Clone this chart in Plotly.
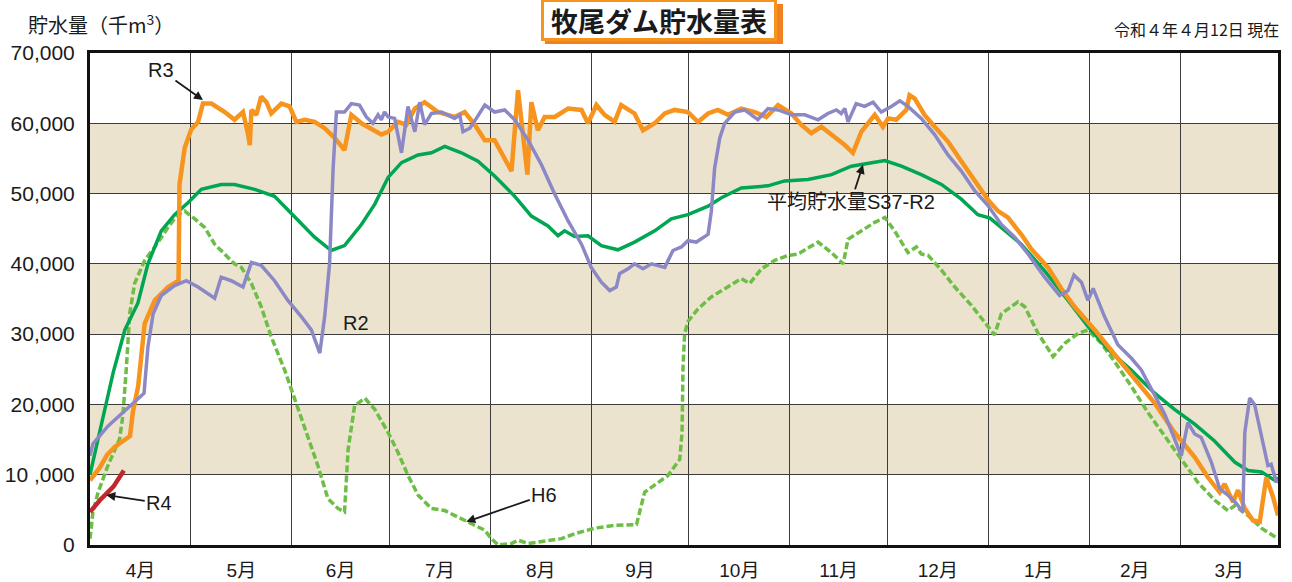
import plotly.graph_objects as go

# ---------------- data (storage in 千m3, x = day index from 1 April) ----------------
MONTH_LABELS = ["4月", "5月", "6月", "7月", "8月", "9月", "10月", "11月", "12月", "1月", "2月", "3月"]
MONTH_BOUNDS = [0, 31, 62, 92, 123, 154, 184, 215, 245, 276, 307, 335, 365]

Y_TICKS = [0, 10000, 20000, 30000, 40000, 50000, 60000, 70000]
Y_TICKTEXT = ["0", "10 ,000", "20,000", "30,000", "40,000", "50,000", "60,000", "70,000"]
BANDS = [(10000, 20000), (30000, 40000), (50000, 60000)]

AVG_DAYS = [0, 3.5, 7.1, 10.7, 14.7, 17.8, 21.9, 26, 30.1, 34.2,
            40.3, 44.4, 50.6, 56.7, 62.9, 69, 74.1, 78.2, 83.4, 87.5,
            91.6, 95.7, 100.8, 104.9, 109, 114.1, 119.2, 124.3, 130.5, 135.6,
            140.7, 143.8, 145.8, 148.9, 153, 157.1, 162.2, 167.3, 173.5, 178.6,
            183.7, 189.9, 194, 200.1, 208.3, 213.4, 220.6, 227.8, 233.9, 238,
            244.2, 249.3, 255.4, 261.6, 267.7, 272.8, 276.5, 286.1, 293.3, 300.5,
            306.6, 312.8, 319.9, 327.1, 333.2, 339.4, 345.5, 351.7, 355.8, 359.9,
            364, 365]
AVG_VALS = [10000, 17000, 24500, 30600, 34400, 40000, 44700, 47000, 48700, 50600,
            51300, 51300, 50600, 49600, 46600, 43800, 41900, 42600, 45600, 48500,
            52300, 54400, 55500, 55800, 56700, 55800, 54600, 52500, 49600, 46800,
            45400, 44000, 44700, 43900, 44000, 42600, 42000, 43100, 44700, 46400,
            47000, 48200, 49400, 50800, 51100, 51800, 52000, 52700, 53900, 54200,
            54700, 53900, 52700, 51300, 49200, 47000, 46500, 42800, 39000, 34800,
            31100, 27800, 24900, 21600, 19300, 17200, 14800, 11800, 10600, 10400,
            9200, 9600]

R3_DAYS = [0, 3, 5.2, 7.7, 12.3, 13.2, 14.8, 16.8, 19.9, 24,
           27.2, 27.5, 29.1, 31.1, 33.2, 34.7, 37.3, 41.4, 44.4, 47,
           48.5, 49.1, 49.6, 51.1, 52.6, 54.2, 55.7, 58.8, 61.3, 63.4,
           66, 69, 72.1, 75.2, 78.2, 80.3, 83.4, 86.4, 89.5, 91.6,
           94.6, 97.2, 99.8, 102.8, 106.9, 112, 115.1, 118.2, 121.3, 124.3,
           127.4, 129.5, 131.5, 133.6, 134.4, 135.6, 137.6, 139.7, 142.8, 146.9,
           151, 153, 155.6, 158.1, 161.2, 163.2, 167.3, 169.9, 173.5, 176.6,
           179.6, 183.7, 186.8, 189.9, 192.9, 196, 200.1, 204.2, 207.8, 211.4,
           215.5, 218.5, 221.6, 224.7, 228.8, 231.9, 234.4, 237, 241.1, 243.6,
           245.2, 247.7, 250.8, 251.8, 253.4, 256.4, 259.5, 263.6, 267.7, 271.8,
           275.9, 279, 282, 286.1, 289.2, 294.3, 298.4, 302.5, 308.7, 314.8,
           321, 327.1, 333.2, 339.4, 343.5, 347.1, 348.6, 351.2, 352.7, 354.8,
           357.3, 359.4, 361.4, 363.5, 365]
R3_VALS = [9200, 11000, 12800, 14000, 15500, 19000, 22600, 31500, 34800, 36700,
           37600, 51300, 56500, 59100, 60200, 62800, 62800, 61600, 60500, 61600,
           58600, 56900, 61900, 61200, 63800, 63000, 61400, 62800, 62400, 60200,
           60500, 60200, 59300, 57900, 56200, 61200, 60000, 59300, 58400, 58800,
           60200, 59800, 62100, 63000, 61600, 60900, 61600, 59800, 57600, 57600,
           55100, 53200, 64700, 56000, 52700, 63000, 59000, 60900, 60900, 62100,
           61900, 60000, 62600, 61200, 60200, 62600, 61400, 59000, 60000, 61400,
           61900, 61600, 60200, 61400, 61900, 61200, 62100, 61600, 60900, 62600,
           61400, 59800, 58600, 59500, 58100, 56900, 55800, 58800, 61200, 59500,
           60700, 60500, 61900, 64000, 63500, 61200, 59500, 57400, 54600, 51800,
           49100, 47500, 46600, 44200, 42100, 39500, 36500, 33900, 30600, 27100,
           23500, 20200, 16000, 12500, 9600, 7500, 8700, 6100, 7800, 5200,
           3500, 3300, 9600, 6800, 4200]

R2_DAYS = [0, 0.9, 5.5, 11.7, 16.6, 17.8, 19.4, 21.9, 26, 29.6,
           33.2, 38.3, 40.3, 43.4, 47, 49.6, 52.6, 56.7, 60.8, 64.9,
           68, 70.6, 72.1, 73.6, 74.7, 75.7, 78.2, 80.3, 82.8, 84.9,
           86.9, 88.5, 89.5, 90.5, 91.6, 93.6, 95.7, 97.7, 99.8, 101.3,
           102.8, 104.9, 108, 112, 113.6, 114.6, 116.7, 118.7, 121.3, 124.3,
           127.4, 130.5, 134.6, 138.7, 142.8, 146.9, 151, 154, 157.1, 159.7,
           161.7, 162.7, 165.3, 167.3, 169.9, 172.5, 176.6, 179.1, 181.7, 183.7,
           186.3, 189.9, 190.9, 191.9, 193.5, 195, 198.1, 201.1, 205.2, 208.3,
           211.4, 215.5, 219.6, 223.7, 226.7, 229.3, 230.8, 231.9, 232.9, 235.4,
           238, 240.6, 243.1, 246.2, 248.8, 251.3, 255.4, 259.5, 263.6, 267.7,
           271.8, 275.9, 280, 284.1, 288.2, 293.3, 297.9, 300.5, 302.3, 304.6,
           306.6, 308.2, 311.7, 315.8, 319.9, 323, 326.1, 330.2, 333.2, 335.3,
           337.3, 339.4, 341.4, 344.5, 347.1, 349.6, 352.2, 354.2, 354.8, 356.3,
           357.8, 359.9, 361.9, 362.9, 364.5, 365]
R2_VALS = [12700, 14400, 16900, 19500, 21600, 28200, 32900, 35500, 36900, 37600,
           36700, 35100, 38100, 37600, 36700, 40200, 39800, 37600, 34800, 32500,
           30600, 27300, 32500, 40000, 53600, 61600, 61600, 62800, 62600, 60900,
           60000, 61200, 60500, 61600, 60900, 60700, 55800, 62400, 58800, 63000,
           59800, 61400, 61600, 60700, 61200, 58800, 59300, 60700, 62600, 61600,
           61900, 60500, 57600, 54100, 49900, 46100, 42800, 39500, 37400, 36200,
           36700, 38600, 39300, 40000, 39300, 40000, 39500, 41900, 42400, 43300,
           43100, 44200, 47500, 53600, 57900, 60000, 61600, 61900, 60500, 62100,
           61900, 61200, 61200, 60500, 61400, 61900, 61400, 62100, 60200, 62800,
           62400, 63000, 61600, 62400, 63200, 62400, 60700, 58400, 55500, 53200,
           50400, 48300, 45600, 43800, 41400, 38100, 35500, 36200, 38400, 37400,
           34800, 36500, 32500, 28500, 26600, 24900, 22100, 18600, 15100, 12700,
           17400, 15800, 15300, 11800, 8000, 7100, 5900, 4700, 16000, 20900,
           20000, 15500, 11300, 11500, 8900, 9400]

H6_DAYS = [0, 0.9, 2.5, 5.5, 9.1, 10.1, 11.2, 12.2, 13.7, 16.8,
           19.9, 24, 27, 29.1, 32.2, 35.2, 38.3, 41.4, 44.4, 46.5,
           49.6, 52.6, 55.7, 59.8, 62.9, 67, 70, 73.1, 76.2, 78.2,
           79.3, 81.3, 84.4, 87.5, 91.6, 94.6, 97.7, 100.8, 104.9, 109,
           112, 116.1, 121.3, 123.3, 125.4, 129.5, 131.5, 134.6, 139.7, 144.8,
           148.9, 155.1, 161.2, 167.9, 170.4, 173.5, 177.6, 181.2, 181.9, 182.2,
           182.7, 183.7, 186.8, 190.9, 195, 200.1, 202.7, 206.3, 210.4, 214.5,
           217.5, 223.7, 227.8, 231.4, 232.9, 237, 241.1, 244.2, 247.2, 251.3,
           253.9, 255.4, 257.5, 261.6, 265.7, 270.8, 275.9, 277.9, 280, 285.1,
           287.2, 291.3, 295.9, 299.5, 303.6, 306.6, 310.7, 314.8, 319.9, 325.1,
           330.2, 335.3, 340.4, 345.5, 349.6, 351.7, 355.8, 359.9, 365]
H6_VALS = [900, 4700, 7500, 11300, 15100, 18400, 25400, 32900, 37200, 40500,
           42400, 45200, 47000, 47500, 46400, 45200, 42800, 41400, 40000, 39500,
           37200, 33900, 29600, 24900, 20700, 15500, 11300, 6600, 5200, 4700,
           13600, 19800, 20900, 19300, 16000, 13200, 9900, 7100, 5200, 4900,
           4200, 3300, 2100, 900, 0, 200, 700, 200, 500, 900,
           1600, 2400, 2800, 2900, 7500, 8500, 9900, 12200, 16000, 25400,
           30100, 31800, 33600, 35300, 36500, 37900, 37200, 39300, 40500, 41200,
           41400, 43100, 41600, 40000, 43500, 44700, 45900, 46600, 44700, 41600,
           42400, 41400, 41200, 39100, 36700, 34100, 31000, 29900, 32900, 34600,
           33900, 30100, 26800, 28700, 30100, 30600, 28700, 26100, 22600, 18800,
           15500, 12200, 8900, 6400, 4900, 5600, 4200, 2400, 900]

R4_DAYS = [0, 3.1, 7.2, 10.4]
R4_VALS = [4700, 6400, 8300, 10600]

# ---------------- styling ----------------
C_AVG = "#00A651"
C_R3 = "#F7941D"
C_R2 = "#8C88C6"
C_H6 = "#6DBE45"
C_R4 = "#C1272D"
FONT_LAT = "Liberation Sans, Arial, Noto Sans CJK JP, sans-serif"
FONT_CJK = "Noto Sans CJK JP, Liberation Sans, sans-serif"

fig = go.Figure()
fig.add_trace(go.Scatter(x=H6_DAYS, y=H6_VALS, mode="lines", name="H6",
                         line=dict(color=C_H6, width=3.5, dash="7px,3px")))
fig.add_trace(go.Scatter(x=AVG_DAYS, y=AVG_VALS, mode="lines", name="平均貯水量S37-R2",
                         line=dict(color=C_AVG, width=3.5)))
fig.add_trace(go.Scatter(x=R3_DAYS, y=R3_VALS, mode="lines", name="R3",
                         line=dict(color=C_R3, width=4.5)))
fig.add_trace(go.Scatter(x=R2_DAYS, y=R2_VALS, mode="lines", name="R2",
                         line=dict(color=C_R2, width=3.5)))
fig.add_trace(go.Scatter(x=R4_DAYS, y=R4_VALS, mode="lines", name="R4",
                         line=dict(color=C_R4, width=4.5)))

shapes = []
for lo, hi in BANDS:
    shapes.append(dict(type="rect", xref="paper", yref="y", x0=0, x1=1, y0=lo, y1=hi,
                       fillcolor="#EBE3CE", line=dict(width=0), layer="below"))
# title box shadow
shapes.append(dict(type="rect", xref="paper", yref="paper",
                   x0=(545 - 90) / 1188, x1=(783 - 90) / 1188,
                   y0=(545 - 44) / 492, y1=(545 - 4) / 492,
                   fillcolor="#F08020", line=dict(width=0), layer="above"))

month_centers = [(MONTH_BOUNDS[i] + MONTH_BOUNDS[i + 1]) / 2 for i in range(12)]

annotations = [
    dict(text="<b>牧尾ダム貯水量表</b>", xref="paper", yref="paper",
         x=(659 - 90) / 1188, y=(545 - 20) / 492, showarrow=False,
         font=dict(family=FONT_CJK, size=27, color="#1a1a1a"),
         bgcolor="white", bordercolor=C_R3, borderwidth=3, borderpad=2,
         width=226, height=32, xanchor="center", yanchor="middle"),
    dict(text="貯水量（千m<sup>3</sup>）", xref="paper", yref="paper",
         x=(26 - 90) / 1188, y=(545 - 24) / 492, showarrow=False,
         xanchor="left", yanchor="middle",
         font=dict(family=FONT_CJK, size=20, color="#1a1a1a")),
    dict(text="令和４年４月12日 現在", xref="paper", yref="paper",
         x=(1281 - 90) / 1188, y=(545 - 29) / 492, showarrow=False,
         xanchor="right", yanchor="middle",
         font=dict(family=FONT_CJK, size=16, color="#1a1a1a")),
]

LABELS = [
    ("R3", 34.7, 63300, -42, -30),
    ("R2", 73.9, 35400, 25, 27),
    ("R4", 5.0, 7100, 53, 8),
    ("H6", 115.6, 3300, 78, -27),
    ("平均貯水量S37-R2", 237.5, 54100, -12, 37),
]
for txt, xd, yv, ax, ay in LABELS:
    annotations.append(dict(text=txt, x=xd, y=yv, xref="x", yref="y", ax=ax, ay=ay,
                            showarrow=True, arrowhead=2, arrowsize=1, arrowwidth=1.8,
                            arrowcolor="#1a1a1a", standoff=0,
                            font=dict(family=FONT_LAT, size=20, color="#1a1a1a")))

fig.update_layout(
    width=1292, height=582,
    margin=dict(l=90, r=14, t=53, b=37, autoexpand=False),
    paper_bgcolor="white", plot_bgcolor="white",
    showlegend=False,
    shapes=shapes,
    annotations=annotations,
    xaxis=dict(range=[0, 365], tickmode="array", tickvals=month_centers,
               ticktext=MONTH_LABELS, showgrid=False, ticks="", automargin=False,
               showline=True, linecolor="#111", linewidth=3, mirror=True,
               ticklabelstandoff=6, zeroline=False,
               tickfont=dict(family=FONT_LAT, size=19, color="#1a1a1a"),
               minor=dict(tickmode="array", tickvals=MONTH_BOUNDS[1:-1],
                          showgrid=True, gridcolor="#3c3c3c", gridwidth=1.3, ticks="")),
    yaxis=dict(range=[0, 70000], tickmode="array", tickvals=Y_TICKS,
               ticktext=Y_TICKTEXT, showgrid=True, gridcolor="#3c3c3c", gridwidth=1.3,
               ticks="", showline=True, linecolor="#111", linewidth=3, mirror=True,
               zeroline=False, ticklabelstandoff=8, automargin=False,
               tickfont=dict(family=FONT_LAT, size=21, color="#1a1a1a")),
)

fig.write_html(
    "out.html",
    config={"displayModeBar": False},
    post_script="document.body.style.margin='0px';document.body.style.overflow='hidden';",
)
